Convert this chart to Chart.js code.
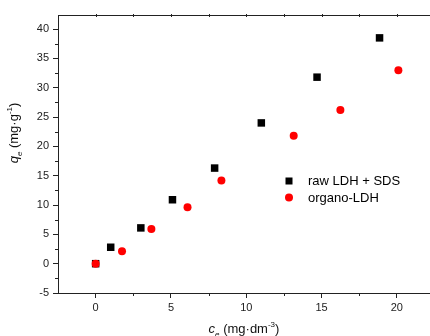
<!DOCTYPE html>
<html>
<head>
<meta charset="utf-8">
<script src="https://cdn.jsdelivr.net/npm/chart.js@4"></script>
<style>
  html, body { margin: 0; padding: 0; background: #fff; overflow: hidden; }
  #wrap { width: 430px; height: 336px; position: relative; }
</style>
</head>
<body>
<div id="wrap"><canvas id="myChart"></canvas></div>
<script>
// values
const rawX = [0, 1.0, 3.0, 5.1, 7.9, 11.0, 14.7, 18.85];
const rawY = [0, 2.8, 6.1, 10.9, 16.3, 24.0, 31.8, 38.5];
const orgX = [0, 1.75, 3.7, 6.1, 8.35, 13.15, 16.25, 20.1];
const orgY = [0, 2.1, 5.9, 9.6, 14.2, 21.8, 26.2, 33.0];

const seriesNames = ['raw LDH + SDS', 'organo-LDH'];
const xMajor = [0, 5, 10, 15, 20];
const xMinor = [2.5, 7.5, 12.5, 17.5];
const yMajor = [-5, 0, 5, 10, 15, 20, 25, 30, 35, 40];
const yMinor = [-2.5, 2.5, 7.5, 12.5, 17.5, 22.5, 27.5, 32.5, 37.5];

const axisColor = '#222';
const fontFam = '"Liberation Sans", Arial, sans-serif';

const toPts = (xs, ys) => xs.map((x, i) => ({ x: x, y: ys[i] }));

// titles, legend, top border and minor ticks
const extras = {
    id: 'extras',
    afterDraw(chart) {
        const ctx = chart.ctx;
        const xs = chart.scales.x, ys = chart.scales.y;
        const area = chart.chartArea;
        ctx.save();
        ctx.strokeStyle = axisColor;
        ctx.lineWidth = 1;

        // top frame line
        ctx.beginPath();
        ctx.moveTo(area.left, area.top + 0.5);
        ctx.lineTo(area.right, area.top + 0.5);
        ctx.stroke();

        // minor ticks
        ctx.beginPath();
        xMinor.forEach(v => {
            const px = Math.round(xs.getPixelForValue(v)) + 0.5;
            ctx.moveTo(px, area.bottom); ctx.lineTo(px, area.bottom + 3);
        });
        yMinor.forEach(v => {
            const py = Math.round(ys.getPixelForValue(v)) + 0.5;
            ctx.moveTo(area.left, py); ctx.lineTo(area.left - 3, py);
        });
        // tiny ticks on top line
        xMajor.concat(xMinor).forEach(v => {
            const px = Math.round(xs.getPixelForValue(v)) + 0.5;
            ctx.moveTo(px, area.top - 1); ctx.lineTo(px, area.top + 2);
        });
        ctx.stroke();

        // rich text helper: parts = [text, style]
        function drawRich(parts, cx, cy) {
            let w = 0;
            parts.forEach(p => { ctx.font = p.font; w += ctx.measureText(p.t).width; });
            let x = cx - w / 2;
            parts.forEach(p => {
                ctx.font = p.font;
                ctx.fillText(p.t, x, cy + (p.dy || 0));
                x += ctx.measureText(p.t).width;
            });
        }
        ctx.fillStyle = '#111';
        ctx.textBaseline = 'alphabetic';
        ctx.textAlign = 'left';
        const big = '13px ' + fontFam;
        const bigI = 'italic 13px ' + fontFam;
        const small = '8px ' + fontFam;
        const smallI = 'italic 8px ' + fontFam;

        // x title
        drawRich([
            { t: 'c', font: bigI },
            { t: 'e', font: smallI, dy: 4 },
            { t: ' (mg\u00b7dm', font: big },
            { t: '-3', font: small, dy: -6 },
            { t: ')', font: big }
        ], (area.left + area.right) / 2, 333);

        // y title
        ctx.save();
        ctx.translate(18, 133);
        ctx.rotate(-Math.PI / 2);
        drawRich([
            { t: 'q', font: bigI },
            { t: 'e', font: smallI, dy: 4 },
            { t: ' (mg\u00b7g', font: big },
            { t: '-1', font: small, dy: -6 },
            { t: ')', font: big }
        ], 0, 0);
        ctx.restore();

        // legend
        ctx.font = big;
        ctx.textBaseline = 'middle';
        ctx.fillStyle = '#000';
        ctx.fillRect(285.5, 177.5, 7, 7);
        ctx.fillText(seriesNames[0], 308, 181);
        ctx.fillStyle = '#ff0000';
        ctx.beginPath();
        ctx.arc(289, 197.5, 4, 0, Math.PI * 2);
        ctx.fill();
        ctx.fillStyle = '#000';
        ctx.fillText(seriesNames[1], 308, 198);

        ctx.restore();
    }
};

const ctx = document.getElementById('myChart').getContext('2d');

const myChart = new Chart(ctx, {
    type: 'scatter',
    data: {
        datasets: [{
            label: seriesNames[0],
            data: toPts(rawX, rawY),
            pointStyle: 'rect',
            pointRadius: 5.3,
            pointHoverRadius: 5.3,
            backgroundColor: '#000',
            borderWidth: 0,
            order: 1
        }, {
            label: seriesNames[1],
            data: toPts(orgX, orgY),
            pointStyle: 'circle',
            pointRadius: 4,
            pointHoverRadius: 4,
            backgroundColor: '#ff0000',
            borderWidth: 0,
            order: 0
        }]
    },
    options: {
        responsive: true,
        maintainAspectRatio: false,
        animation: false,
        events: [],
        layout: { autoPadding: false, padding: { top: 15, right: 0, left: 0, bottom: 0 } },
        plugins: {
            legend: { display: false },
            tooltip: { enabled: false }
        },
        scales: {
            x: {
                type: 'linear',
                min: -2.5,
                max: 22.2,
                afterBuildTicks: s => { s.ticks = xMajor.map(v => ({ value: v })); },
                afterFit: s => { s.height = 43; s.paddingLeft = 0; s.paddingRight = 0; },
                border: { color: axisColor, width: 1 },
                grid: { drawOnChartArea: false, tickLength: 5, tickColor: axisColor },
                ticks: { autoSkip: false, maxRotation: 0, padding: 3, color: '#222', font: { family: fontFam, size: 11 } }
            },
            y: {
                type: 'linear',
                min: -5,
                max: 42.4,
                afterBuildTicks: s => { s.ticks = yMajor.map(v => ({ value: v })); },
                afterFit: s => { s.width = 58; s.paddingTop = 0; s.paddingBottom = 0; },
                border: { color: axisColor, width: 1 },
                grid: { drawOnChartArea: false, tickLength: 5, tickColor: axisColor },
                ticks: { autoSkip: false, padding: 4, color: '#222', font: { family: fontFam, size: 11 } }
            }
        }
    },
    plugins: [extras]
});
</script>
</body>
</html>
